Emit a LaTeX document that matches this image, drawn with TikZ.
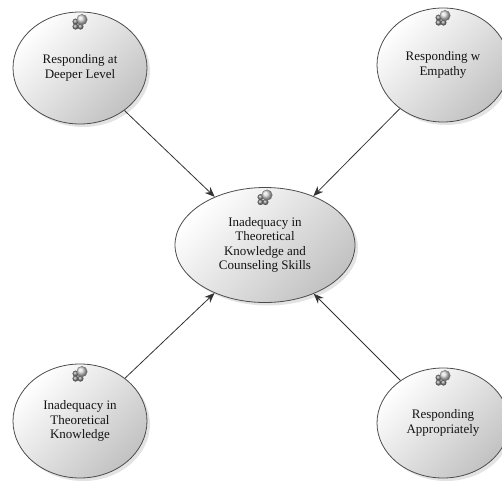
\documentclass[tikz,border=0pt]{standalone}
\usepackage{fontspec}
\setmainfont{Liberation Serif}
\usetikzlibrary{shapes.geometric,shadows,arrows.meta}
\tikzset{
  bubble/.style={ellipse, draw=black!70, line width=0.8pt, inner sep=0pt,
    align=center, font=\fontsize{13}{14.5}\selectfont, text=black!92,
    top color=white, bottom color=black!24, shading angle=45,
    drop shadow={opacity=0.22, shadow xshift=3pt, shadow yshift=-3pt}},
  outer/.style={bubble, minimum width=134pt, minimum height=112pt},
  link/.style={draw=black!80, line width=0.8pt, -{Stealth[length=10pt,width=8pt]}},
  sphereicon/.pic={
    \foreach \p in {(-4.5,1),(-4.5,6),(0.5,6)}
      \shadedraw[ball color=black!45, draw=black!65, line width=0.3pt] \p circle[radius=2.8];
    \shadedraw[ball color=white!85!black, draw=black!55, line width=0.3pt] (2,-1) circle[radius=5.3];
  }
}
\begin{document}
\begin{tikzpicture}[x=1pt, y=-1pt]
  \useasboundingbox (0,0) rectangle (502,481);
  \node[outer] (tl) at (80,68) {Responding at\\Deeper Level};
  \node[outer, minimum width=132pt, minimum height=114pt] (tr) at (443,65) {Responding w\\Empathy};
  \node[outer, minimum height=114pt] (bl) at (80,421) {Inadequacy in\\Theoretical\\Knowledge};
  \node[outer, minimum width=132pt, minimum height=110pt] (br) at (443,423) {Responding\\Appropriately};
  \node[bubble, minimum width=180pt, minimum height=115pt] (c) at (265,245)
    {Inadequacy in\\Theoretical\\Knowledge and\\Counseling Skills};
  \foreach \n in {tl,tr,bl,br,c}
    \path (\n.north) ++(0,9) pic {sphereicon};
  \draw[link] (tl) -- (c);
  \draw[link] (tr) -- (c);
  \draw[link] (bl) -- (c);
  \draw[link] (br) -- (c);
\end{tikzpicture}
\end{document}
